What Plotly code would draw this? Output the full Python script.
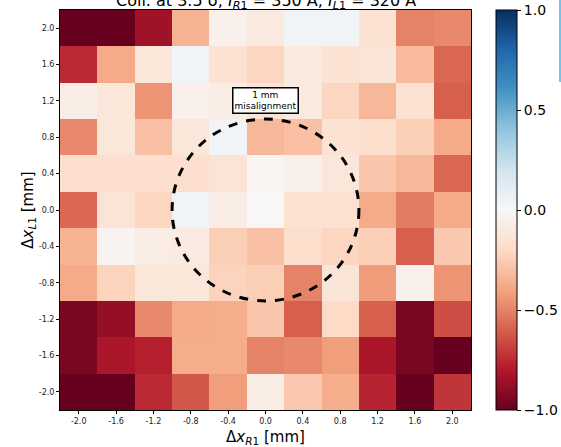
import plotly.graph_objects as go

x_vals = [-2.0, -1.6, -1.2, -0.8, -0.4, 0.0, 0.4, 0.8, 1.2, 1.6, 2.0]
y_vals = [-2.0, -1.6, -1.2, -0.8, -0.4, 0.0, 0.4, 0.8, 1.2, 1.6, 2.0]
x_ticklabels = ["-2.0", "-1.6", "-1.2", "-0.8", "-0.4", "0.0", "0.4", "0.8", "1.2", "1.6", "2.0"]
y_ticklabels = ["-2.0", "-1.6", "-1.2", "-0.8", "-0.4", "0.0", "0.4", "0.8", "1.2", "1.6", "2.0"]

# rows listed from top (y = 2.0) to bottom (y = -2.0)
rows_top_to_bottom = [
    [-1.00, -1.00, -0.85, -0.35, -0.05, -0.10, 0.03, 0.03, -0.15, -0.50, -0.48],
    [-0.75, -0.38, -0.12, 0.03, -0.15, -0.22, -0.10, -0.15, -0.13, -0.32, -0.58],
    [-0.07, -0.12, -0.45, -0.05, -0.08, -0.15, -0.10, -0.22, -0.33, -0.15, -0.60],
    [-0.48, -0.12, -0.30, -0.12, 0.03, -0.33, -0.30, -0.15, -0.18, -0.25, -0.38],
    [-0.17, -0.17, -0.17, -0.17, -0.14, -0.02, -0.05, -0.12, -0.28, -0.33, -0.58],
    [-0.58, -0.14, -0.22, 0.03, -0.07, 0.00, -0.16, -0.16, -0.38, -0.52, -0.38],
    [-0.35, -0.03, -0.08, -0.09, -0.25, -0.30, -0.18, -0.22, -0.25, -0.60, -0.27],
    [-0.38, -0.23, -0.12, -0.12, -0.23, -0.25, -0.50, -0.13, -0.43, -0.05, -0.45],
    [-0.95, -0.88, -0.48, -0.38, -0.37, -0.28, -0.60, -0.20, -0.60, -0.95, -0.65],
    [-0.95, -0.82, -0.78, -0.37, -0.37, -0.50, -0.48, -0.42, -0.82, -0.95, -1.00],
    [-1.00, -1.00, -0.75, -0.62, -0.42, -0.07, -0.27, -0.37, -0.77, -1.00, -0.72],
]
z = rows_top_to_bottom[::-1]

rdbu = [
    [0.0, "rgb(103,0,31)"], [0.1, "rgb(178,24,43)"], [0.2, "rgb(214,96,77)"],
    [0.3, "rgb(244,165,130)"], [0.4, "rgb(253,219,199)"], [0.5, "rgb(247,247,247)"],
    [0.6, "rgb(209,229,240)"], [0.7, "rgb(146,197,222)"], [0.8, "rgb(67,147,195)"],
    [0.9, "rgb(33,102,172)"], [1.0, "rgb(5,48,97)"],
]

W, H = 561, 447
L, T = 60, 10
pw, ph = 411, 400
R = W - L - pw
B = H - T - ph

fig = go.Figure(go.Heatmap(
    x=x_vals, y=y_vals, z=z, zmin=-1, zmax=1, colorscale=rdbu,
    colorbar=dict(
        x=(496 - L) / pw, xanchor="left", xref="paper", y=0.5, yanchor="middle",
        len=1.0, lenmode="fraction", thickness=21, thicknessmode="pixels",
        outlinecolor="black", outlinewidth=1,
        tickvals=[-1.0, -0.5, 0.0, 0.5, 1.0], tickformat=".1f",
        ticks="outside", ticklen=4, tickcolor="black",
        tickfont=dict(family="DejaVu Sans", size=14, color="black"),
        xpad=0, ypad=0,
    ),
))

fig.add_shape(type="circle", xref="x", yref="y", x0=-1, x1=1, y0=-1, y1=1,
              line=dict(color="black", width=3, dash="dash"), layer="above")

fig.add_annotation(x=0.0, y=1.2, xref="x", yref="y", text="1 mm<br>misalignment",
                   showarrow=False, font=dict(family="DejaVu Sans", size=9, color="black"),
                   bgcolor="white", bordercolor="black", borderwidth=1.5, borderpad=1)

fig.add_annotation(x=0.5, y=1, xref="paper", yref="paper", yanchor="bottom", yshift=-4,
                   text="Coll. at 3.5 σ, <i>I</i><sub><i>R</i>1</sub> = 350 A, <i>I</i><sub><i>L</i>1</sub> = 320 A",
                   showarrow=False, font=dict(family="DejaVu Sans", size=16, color="black"))

fig.add_shape(type="line", xref="paper", yref="paper",
              x0=(560 - L) / pw, x1=(560 - L) / pw,
              y0=(T + ph) / ph, y1=(T + ph - 82) / ph,
              line=dict(color="rgb(110,198,234)", width=2))

axis_common = dict(showline=True, linecolor="black", linewidth=1, mirror=True,
                   ticks="outside", ticklen=3, tickcolor="black", showgrid=False, zeroline=False,
                   automargin=False,
                   tickfont=dict(family="DejaVu Sans", size=8, color="#222"))

fig.update_xaxes(range=[-2.2, 2.2], tickvals=x_vals, ticktext=x_ticklabels,
                 title=dict(text="Δ<i>x</i><sub><i>R</i>1</sub> [mm]", standoff=7,
                            font=dict(family="DejaVu Sans", size=15, color="black")),
                 **axis_common)
fig.update_yaxes(range=[-2.2, 2.2], tickvals=y_vals, ticktext=y_ticklabels,
                 title=dict(text="Δ<i>x</i><sub><i>L</i>1</sub> [mm]", standoff=1,
                            font=dict(family="DejaVu Sans", size=15, color="black")),
                 **axis_common)

fig.update_layout(width=W, height=H, margin=dict(l=L, r=R, t=T, b=B, autoexpand=False),
                  plot_bgcolor="white", paper_bgcolor="white", showlegend=False)

fig.write_html("out.html", config={"displayModeBar": False},
               post_script="document.body.style.margin='0px';document.body.style.overflow='hidden';")
